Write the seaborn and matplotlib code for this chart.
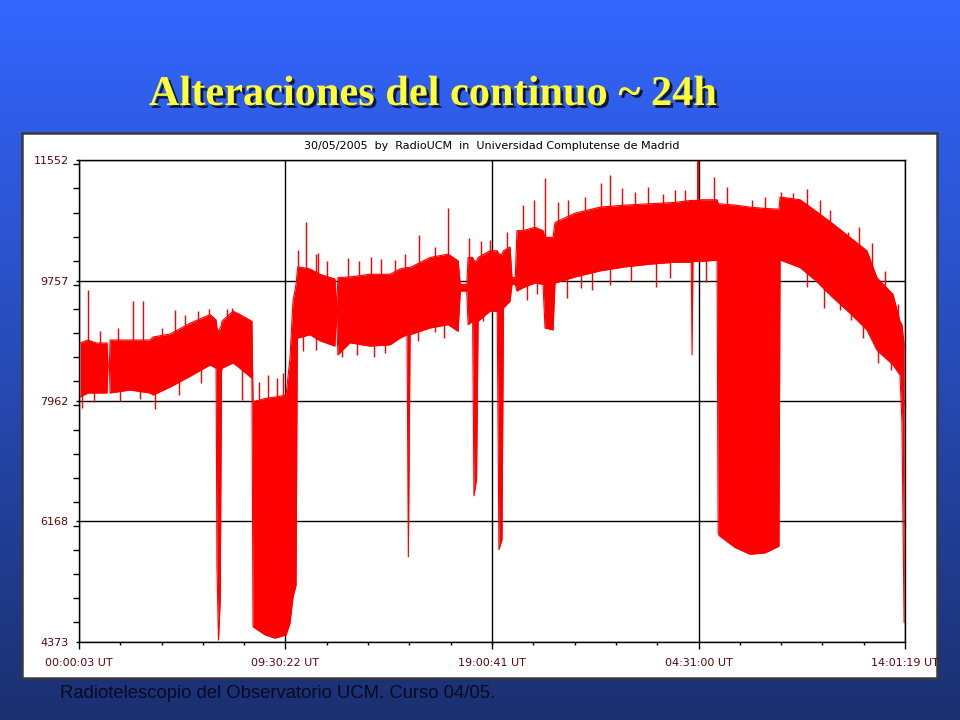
import numpy as np
import matplotlib
matplotlib.use("Agg")
import matplotlib.pyplot as plt
import matplotlib.patheffects as pe
from matplotlib.patches import Rectangle
from matplotlib.ticker import MultipleLocator
import seaborn as sns

# Continuum record 30/05/2005, time in hours since 00:00:03 UT
# band envelope (upper / lower edge of the red trace)
time_h = [0.05, 0.41, 0.80, 1.29, 1.33, 1.40, 1.43, 2.35, 3.27, 3.41, 4.19, 5.11, 6.03, 6.31,
          6.35, 6.42, 6.50, 6.56, 6.58, 7.09, 7.41, 7.96,
          8.01, 8.56, 9.02, 9.53, 9.71, 9.85, 9.99, 10.05,
          10.08, 10.63, 11.09, 11.78, 11.85, 11.92, 12.47, 13.39, 14.32, 14.78,
          15.10, 15.16, 15.24, 16.16, 16.99, 17.45, 17.55, 17.85, 17.91,
          18.12, 18.18, 18.30, 18.37, 18.92, 19.25, 19.33, 19.47, 19.54, 19.84,
          19.93, 20.08, 20.16, 20.44, 20.99, 21.36, 21.45, 21.82, 21.91,
          22.83, 23.98, 25.13, 26.28, 27.43, 28.18, 28.22, 28.26, 28.47, 28.49, 28.51,
          28.58, 29.37, 29.42, 29.46, 30.20, 30.89, 31.58, 32.22, 32.27,
          33.19, 33.88, 34.71, 35.49, 36.27, 36.73, 37.47, 37.79, 37.88, 37.98]
upper = [8826, 8871, 8826, 8826, 8500, 8500, 8871, 8871, 8871, 8916, 8960, 9120, 9250, 9170,
         9050, 9000, 9050, 9100, 9150, 9300, 9250, 9150,
         7950, 8000, 8022, 8050, 8600, 9450, 9700, 9900,
         9960, 9930, 9850, 9780, 9350, 9800, 9810, 9850, 9850, 9930,
         9950, 9950, 9950, 10100, 10150, 10050, 9700, 9700, 10100,
         10100, 10050, 10050, 10100, 10200, 10200, 10150, 10150, 10200, 10256,
         9800, 9800, 10500, 10500, 10550, 10500, 10400, 10400, 10620,
         10760, 10850, 10880, 10900, 10920, 10950, 10950, 10950, 10950, 11552, 10950,
         10960, 10960, 10900, 10900, 10880, 10850, 10830, 10820, 11000,
         10960, 10800, 10600, 10400, 10200, 9800, 9550, 9150, 9100, 8800]
lower = [8022, 8082, 8082, 8082, 8480, 8480, 8082, 8126, 8082, 8052, 8170, 8330, 8500, 8450,
         5500, 4403, 5000, 8400, 8450, 8530, 8450, 8300,
         4600, 4480, 4430, 4480, 4650, 5040, 5220, 8900,
         8900, 8950, 8860, 8780, 9300, 8650, 8830, 8780, 8800, 8900,
         8950, 5640, 8950, 9050, 9100, 9000, 9600, 9600, 9100,
         9150, 6550, 6800, 9150, 9300, 9300, 5750, 5900, 9350, 9450,
         9700, 9700, 9600, 9650, 9720, 9700, 9050, 9020, 9720,
         9810, 9900, 9960, 10000, 10030, 10030, 8650, 10040, 10040, 10040, 10040,
         10040, 10060, 6000, 5960, 5780, 5680, 5700, 5800, 10063,
         9950, 9765, 9500, 9270, 9020, 8720, 8500, 8350, 7650, 4660]

# isolated spikes sticking out of the band
spike_up_t = [0.41, 0.95, 1.80, 2.49, 2.95, 3.80, 4.42, 4.90, 5.48, 5.98, 6.80, 7.04, 7.30,
              8.30, 8.70, 9.10, 9.40,
              10.08, 10.45, 10.90, 11.00, 11.40, 12.38, 12.90, 13.44, 13.90,
              14.55, 15.00, 15.65, 16.40, 16.99, 17.96, 18.50, 18.92, 19.70, 20.44, 20.94, 21.45,
              22.05, 22.50, 23.30, 24.03, 24.44, 24.99, 25.60, 26.19, 26.90, 27.43, 27.90,
              29.23, 29.83, 30.98, 31.60, 32.31, 32.87, 33.51, 34.10, 34.57, 35.40, 35.90,
              36.50, 37.10, 37.70]
spike_up_v = [9616, 9000, 9050, 9452, 9452, 9050, 9318, 9250, 9300, 9330, 9330, 9347, 9280,
              8250, 8350, 8300, 8380,
              10211, 10628, 10150, 10166, 10050, 10092, 10050, 10107, 10080,
              10063, 10150, 10435, 10250, 10837, 10390, 10350, 10360, 10480, 10882, 10956, 11284,
              10926, 10950, 11000, 11209, 11328, 11135, 11080, 11150, 11050, 11105, 11100,
              11299, 11150, 10956, 11000, 11075, 11060, 11120, 10950, 10807, 10480, 10550,
              10316, 9900, 9400]
spike_dn_t = [0.14, 0.70, 1.90, 2.80, 3.50, 4.60, 5.60, 7.50,
              10.30, 10.90, 12.11, 12.80, 13.58, 14.10, 15.60, 16.39, 16.80, 18.60,
              20.62, 21.10, 22.46, 23.10, 23.60, 24.44, 25.40, 26.56, 27.20, 28.86,
              33.51, 34.30, 35.03, 35.54, 36.10, 36.78, 37.38]
spike_dn_v = [7858, 7950, 7960, 7990, 7843, 8050, 8230, 7977,
              8700, 8720, 8618, 8650, 8618, 8680, 8850, 8990, 8900, 9150,
              9467, 9550, 9497, 9650, 9620, 9690, 9750, 9660, 9800, 9735,
              9660, 9350, 9318, 9169, 8900, 8528, 8424]

y_ticks = [4373, 6168, 7962, 9757, 11552]
x_ticks = [0.0, 9.505, 19.011, 28.516, 38.021]
x_labels = ["00:00:03 UT", "09:30:22 UT", "19:00:41 UT", "04:31:00 UT", "14:01:19 UT"]

sns.set_style("white")
plt.rcParams["font.family"] = ["DejaVu Sans"]

fig = plt.figure(figsize=(9.6, 7.2), dpi=100)

# slide background gradient
bg = fig.add_axes([0, 0, 1, 1], zorder=-10)
top_c = np.array([0x33, 0x66, 0xff]) / 255
bot_c = np.array([0x1b, 0x30, 0x70]) / 255
k = np.linspace(0, 1, 256)[:, None]
grad = top_c * (1 - k) + bot_c * k
bg.imshow(grad[:, None, :], aspect="auto", extent=[0, 1, 0, 1])
bg.set_axis_off()

# white panel holding the plot
panel = Rectangle((0.0229, 0.0583), 0.953, 0.7567, transform=fig.transFigure,
                  facecolor="white", edgecolor="#3a3a3a", lw=1.8, zorder=-5)
fig.patches.append(panel)

fig.text(0.451, 0.868, "Alteraciones del continuo ~ 24h", family="Liberation Serif",
         weight="bold", fontsize=30.5, color="#ffff33", ha="center", va="center",
         path_effects=[pe.SimplePatchShadow(offset=(2, -2), shadow_rgbFace="#0a0f30", alpha=0.9),
                       pe.Normal()])
fig.text(0.0625, 0.037, "Radiotelescopio del Observatorio UCM. Curso 04/05.",
         family="Liberation Sans", fontsize=13.3, color="#060a22", ha="left", va="center")

ax = fig.add_axes([0.0823, 0.1083, 0.8604, 0.6695])
ax.set_facecolor("white")

t = np.array(time_h)
up = np.array(upper)
lo = np.array(lower)
ax.fill_between(t, lo, up, color="#ff0000", lw=0, zorder=3)
sns.lineplot(x=t, y=up, ax=ax, color="#ff0000", lw=0.8, estimator=None, sort=False, zorder=3)
sns.lineplot(x=t, y=lo, ax=ax, color="#ff0000", lw=0.8, estimator=None, sort=False, zorder=3)

mid = (up + lo) / 2
ax.vlines(spike_up_t, np.interp(spike_up_t, t, mid), spike_up_v, color="#ff0000", lw=1.0, zorder=3)
ax.vlines(spike_dn_t, spike_dn_v, np.interp(spike_dn_t, t, mid), color="#ff0000", lw=1.0, zorder=3)

ax.set_xlim(0, 38.021)
ax.set_ylim(4373, 11552)
ax.set_yticks(y_ticks)
ax.set_xticks(x_ticks)
ax.set_xticklabels([])
ax.yaxis.set_minor_locator(MultipleLocator((11552 - 4373) / 20))
ax.xaxis.set_minor_locator(MultipleLocator(38.021 / 20))
ax.grid(True, which="major", color="black", lw=1.0, zorder=2)
ax.set_axisbelow(True)
for s in ax.spines.values():
    s.set_color("black")
    s.set_linewidth(1.0)
    s.set_zorder(4)

ax.tick_params(axis="y", which="major", direction="out", length=2.5, width=1, color="black",
               pad=5, labelsize=8, labelcolor="#5c0606")
ax.tick_params(axis="y", which="minor", direction="out", length=4, width=1, color="black")
ax.tick_params(axis="x", which="major", direction="out", length=5, width=1, color="black")
ax.tick_params(axis="x", which="minor", direction="out", length=2.5, width=1, color="black")
ax.tick_params(left=True, bottom=True, which="both")

# x labels as text so the last one is clipped by the panel like the original
for xv, lab in zip(x_ticks, x_labels):
    tx = ax.text(xv, -0.043, lab, transform=ax.get_xaxis_transform(), ha="center", va="center",
                 fontsize=8, color="#5c0606")
    tx.set_clip_path(panel)

ax.set_title("30/05/2005  by  RadioUCM  in  Universidad Complutense de Madrid",
             fontsize=8, color="black", pad=8)

fig.savefig("out.png", dpi=100)
